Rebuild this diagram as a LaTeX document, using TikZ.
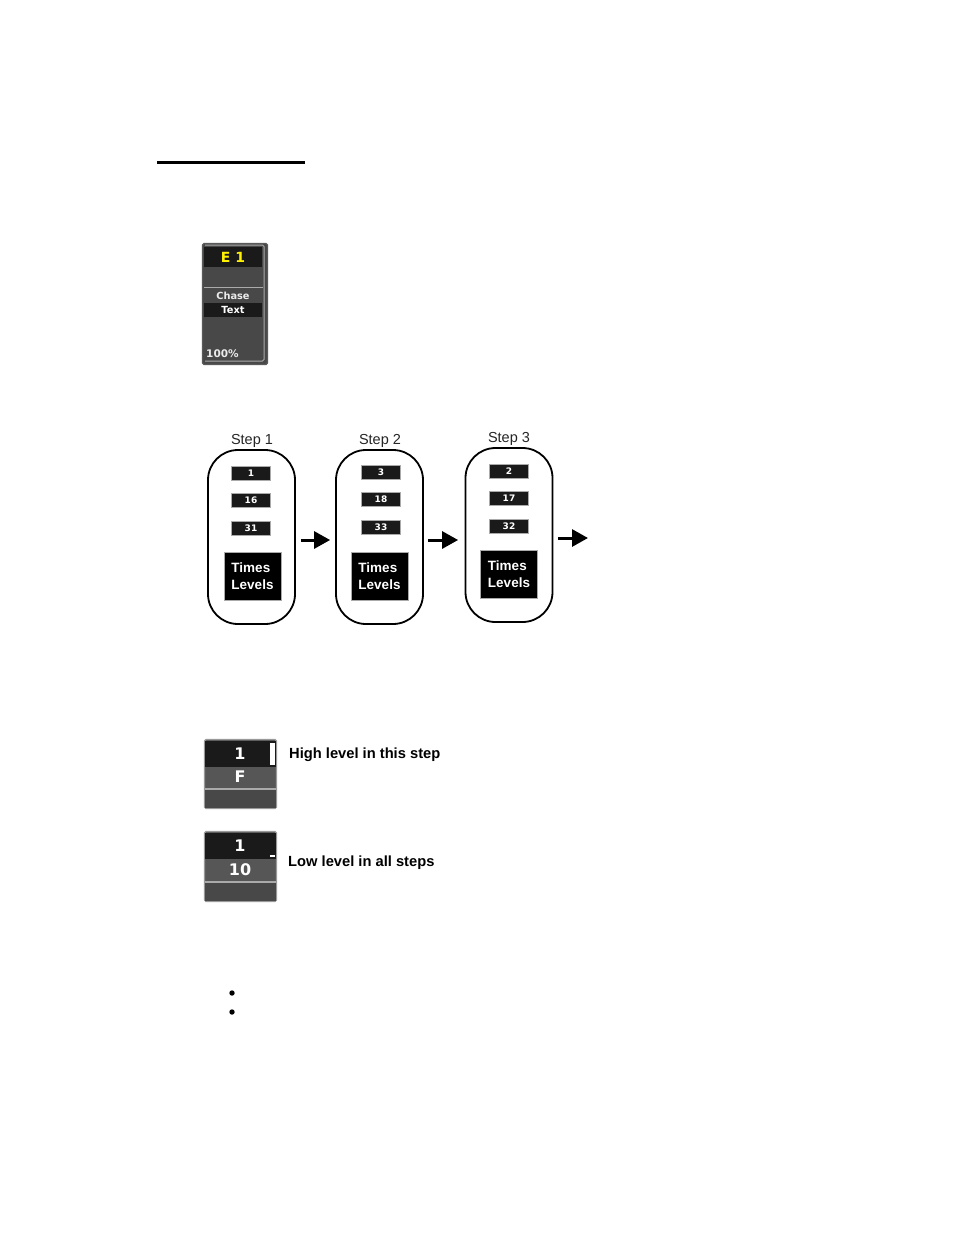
\documentclass[tikz,border=0pt]{standalone}
\usepackage{fontspec}
\setmainfont{Liberation Sans}
\newfontfamily\panelfont{DejaVu Sans}
\definecolor{paneldark}{RGB}{26,26,26}
\definecolor{panelgrey}{RGB}{72,72,72}
\definecolor{panelmid}{RGB}{86,86,86}
\definecolor{panelline}{RGB}{170,170,170}
\usetikzlibrary{arrows.meta,positioning}
\tikzset{
    stepoval/.style={draw,line width=1.8pt,rounded corners=30pt,minimum width=87pt,minimum height=174pt},
    steplabel/.style={font=\fontsize{14.5}{14.5}\selectfont,text=black!85},
    chipbox/.style={draw=panelline,line width=0.6pt,fill=paneldark,text=white,minimum width=39pt,minimum height=14pt,inner sep=0pt,font=\panelfont\bfseries\fontsize{9}{9}\selectfont},
    timesbox/.style={fill=black,draw=panelline,line width=0.6pt,text=white,minimum width=57pt,minimum height=48pt,inner sep=0pt,align=left,font=\bfseries\fontsize{13.5}{17}\selectfont},
    nextarrow/.style={line width=3pt,-{Triangle[length=16pt,width=17pt]}},
    panelbox/.style={draw=panelline,line width=1.2pt,fill=panelgrey,rounded corners=1.5pt,inner sep=0pt},
    panelband/.style={fill=paneldark,inner sep=0pt,text=white},
    paneltext/.style={text=white!92!black,inner sep=0pt,font=\panelfont\bfseries\fontsize{9.8}{10}\selectfont},
    channeltext/.style={text=white,inner sep=0pt,font=\panelfont\bfseries\fontsize{16}{16}\selectfont},
    sidelabel/.style={anchor=west,inner sep=0pt,font=\bfseries\fontsize{14.7}{15}\selectfont}
}
\begin{document}
\begin{tikzpicture}[x=1pt,y=-1pt]
    \useasboundingbox[fill=white] (0,0) rectangle (954,1235);
    % heading rule
    \draw[line width=3pt] (157,162) -- (305,162);

    % executor panel
    \node[panelbox,draw=black!65,minimum width=65pt,minimum height=121pt] (execpanel) at (235,304) {};
    \draw[panelline,line width=1pt,rounded corners=1.5pt] (205,245) -- (264,245) -- (264,361) -- (205,361);
    \node[panelband,minimum width=58pt,minimum height=20pt,text=yellow,font=\panelfont\bfseries\fontsize{14}{14}\selectfont] (execname) at (233,257) {E 1};
    \draw[panelline,line width=1.2pt] (204,287.5) -- (263,287.5);
    \node[paneltext] (chasetext) at (233,295.5) {Chase};
    \node[panelband,minimum width=58pt,minimum height=14pt,font=\panelfont\bfseries\fontsize{9.8}{10}\selectfont] (texttext) at (233,309.5) {Text};
    \node[paneltext,anchor=west,font=\panelfont\bfseries\fontsize{10.5}{11}\selectfont] (percenttext) at (206,353.5) {100\%};

    % step 1
    \node[steplabel] (steplabela) at (252,440.5) {Step 1};
    \node[stepoval] (stepa) at (251.5,537) {};
    \node[chipbox] (chipaa) at (251,473) {1};
    \node[chipbox] (chipab) at (251,500) {16};
    \node[chipbox] (chipac) at (251,528) {31};
    \node[timesbox] (timesa) at (252.5,576) {Times\\Levels};

    % step 2
    \node[steplabel] (steplabelb) at (380,440.5) {Step 2};
    \node[stepoval] (stepb) at (379.5,537) {};
    \node[chipbox] (chipba) at (381,472) {3};
    \node[chipbox] (chipbb) at (381,499) {18};
    \node[chipbox] (chipbc) at (381,527) {33};
    \node[timesbox] (timesb) at (379.5,576) {Times\\Levels};

    % step 3
    \node[steplabel] (steplabelc) at (509,438.5) {Step 3};
    \node[stepoval] (stepc) at (509,535) {};
    \node[chipbox] (chipca) at (509,471) {2};
    \node[chipbox] (chipcb) at (509,498) {17};
    \node[chipbox] (chipcc) at (509,526) {32};
    \node[timesbox] (timesc) at (509,574) {Times\\Levels};

    % arrows between the steps
    \coordinate (stepend) at (588,538);
    \draw[nextarrow,shorten <=5pt,shorten >=5pt] ([yshift=-3pt]stepa.east) -- ([yshift=-3pt]stepb.west);
    \draw[nextarrow,shorten <=4.5pt,shorten >=6.5pt] ([yshift=-3pt]stepb.east) -- ([yshift=-5pt]stepc.west);
    \draw[nextarrow,shorten <=4.5pt] (stepc.east |- stepend) -- (stepend);

    % high level channel
    \node[panelbox,draw=black!40,fill=panelmid,minimum width=72pt,minimum height=69pt] (highpanel) at (240.5,774) {};
    \node[panelband,minimum width=71pt,minimum height=26pt] (highband) at (240.5,753.5) {};
    \node[channeltext] (highnum) at (240,753.5) {1};
    \node[channeltext] (highval) at (240,777) {F};
    \node[fill=panelgrey,inner sep=0pt,minimum width=71pt,minimum height=18pt] (highbase) at (240.5,798.5) {};
    \draw[panelline,line width=2.2pt] (highbase.north west) -- (highbase.north east);
    \node[fill=white,inner sep=0pt,minimum width=5pt,minimum height=22pt] (highbar) at (272.5,754) {};
    \node[sidelabel] (highlabel) at (289,754.5) {High level in this step};

    % low level channel
    \node[panelbox,draw=black!40,fill=panelmid,minimum width=72pt,minimum height=70pt] (lowpanel) at (240.5,866.5) {};
    \node[panelband,minimum width=71pt,minimum height=26pt] (lowband) at (240.5,845.5) {};
    \node[channeltext] (lownum) at (240,846) {1};
    \node[channeltext] (lowval) at (240,870) {10};
    \node[fill=panelgrey,inner sep=0pt,minimum width=71pt,minimum height=18pt] (lowbase) at (240.5,891.5) {};
    \draw[panelline,line width=2.2pt] (lowbase.north west) -- (lowbase.north east);
    \node[fill=white,inner sep=0pt,minimum width=5pt,minimum height=2pt] (lowbar) at (272.5,856) {};
    \node[sidelabel] (lowlabel) at (288,862.5) {Low level in all steps};

    % bullets
    \fill (232,993) circle (2.7);
    \fill (232,1012) circle (2.7);
\end{tikzpicture}
\end{document}
